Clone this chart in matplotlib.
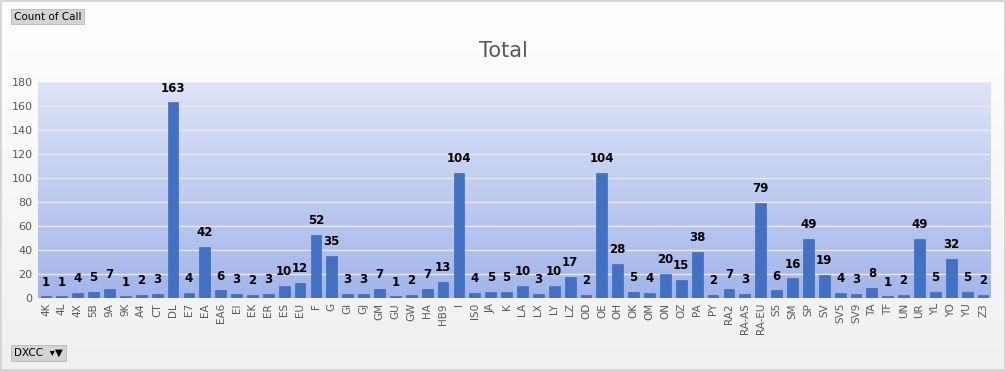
import matplotlib.pyplot as plt
import numpy as np
from matplotlib.colors import LinearSegmentedColormap

calls = ['4K', '4L', '4X', '5B', '9A', '9K', 'A4', 'CT', 'DL', 'E7', 'EA', 'EA6', 'EI', 'EK', 'ER',
         'ES', 'EU', 'F', 'G', 'GI', 'GJ', 'GM', 'GU', 'GW', 'HA', 'HB9', 'I', 'IS0', 'JA', 'K',
         'LA', 'LX', 'LY', 'LZ', 'OD', 'OE', 'OH', 'OK', 'OM', 'ON', 'OZ', 'PA', 'PY', 'RA2',
         'RA-AS', 'RA-EU', 'S5', 'SM', 'SP', 'SV', 'SV5', 'SV9', 'TA', 'TF', 'UN', 'UR', 'YL',
         'YO', 'YU', 'Z3']
counts = [1, 1, 4, 5, 7, 1, 2, 3, 163, 4, 42, 6, 3, 2, 3, 10, 12, 52, 35, 3, 3, 7, 1, 2, 7, 13,
          104, 4, 5, 5, 10, 3, 10, 17, 2, 104, 28, 5, 4, 20, 15, 38, 2, 7, 3, 79, 6, 16, 49, 19,
          4, 3, 8, 1, 2, 49, 5, 32, 5, 2]
y_ticks = [0, 20, 40, 60, 80, 100, 120, 140, 160, 180]

fig = plt.figure(figsize=(10.06, 3.71), dpi=100)

# figure background: soft white-to-grey gradient
bg = fig.add_axes([0, 0, 1, 1], zorder=-10)
bg_cmap = LinearSegmentedColormap.from_list('bg', ['#ffffff', '#f0f0f0'])
bg.imshow(np.linspace(0, 1, 256).reshape(-1, 1), aspect='auto', cmap=bg_cmap,
          extent=[0, 1, 0, 1], origin='upper')
bg.set_xlim(0, 1)
bg.set_ylim(0, 1)
bg.axis('off')
bg.add_patch(plt.Rectangle((0.001, 0.002), 0.998, 0.995, fill=False, ec='#d0d0d0', lw=1.2))

ax = fig.add_axes([0.0378, 0.198, 0.9473, 0.581])
x = np.arange(len(calls))

# plot area gradient
pa_cmap = LinearSegmentedColormap.from_list('pa', ['#dee3f6', '#a2b5eb'])
ax.imshow(np.linspace(0, 1, 256).reshape(-1, 1), aspect='auto', cmap=pa_cmap,
          extent=[-0.5, len(calls) - 0.5, 0, 180], origin='upper', zorder=0)

for t in y_ticks[1:]:
    ax.axhline(t, color='#e6e9f2', lw=1.0, zorder=1)

bars = ax.bar(x, counts, width=0.68, color='#4270c2', edgecolor='#3961ab', lw=0.4, zorder=2)
for xi, v in zip(x, counts):
    ax.text(xi, v + 6.5, str(v), ha='center', va='bottom', fontsize=8.5,
            fontweight='bold', color='black', zorder=3)

ax.set_xlim(-0.5, len(calls) - 0.5)
ax.set_ylim(0, 180)
ax.set_yticks(y_ticks)
ax.set_xticks(x)
ax.set_xticklabels(calls, rotation=90, fontsize=7.5, color='#595959')
ax.tick_params(axis='y', labelsize=8, colors='#595959', length=0, pad=4)
ax.tick_params(axis='x', length=0, pad=4)
for s in ax.spines.values():
    s.set_visible(False)

fig.text(0.5, 0.862, 'Total', ha='center', va='center', fontsize=15, color='#595959')

# pivot chart field buttons
fig.text(0.014, 0.955, 'Count of Call', ha='left', va='center', fontsize=7.5, color='black',
         bbox=dict(boxstyle='square,pad=0.25', fc='#d4d4d4', ec='#b8b8b8', lw=0.6))
fig.text(0.014, 0.048, 'DXCC  \u25be\u25bc', ha='left', va='center', fontsize=7.5, color='black',
         bbox=dict(boxstyle='square,pad=0.3', fc='#d4d4d4', ec='#b8b8b8', lw=0.6))

fig.savefig('out.png', dpi=100)
